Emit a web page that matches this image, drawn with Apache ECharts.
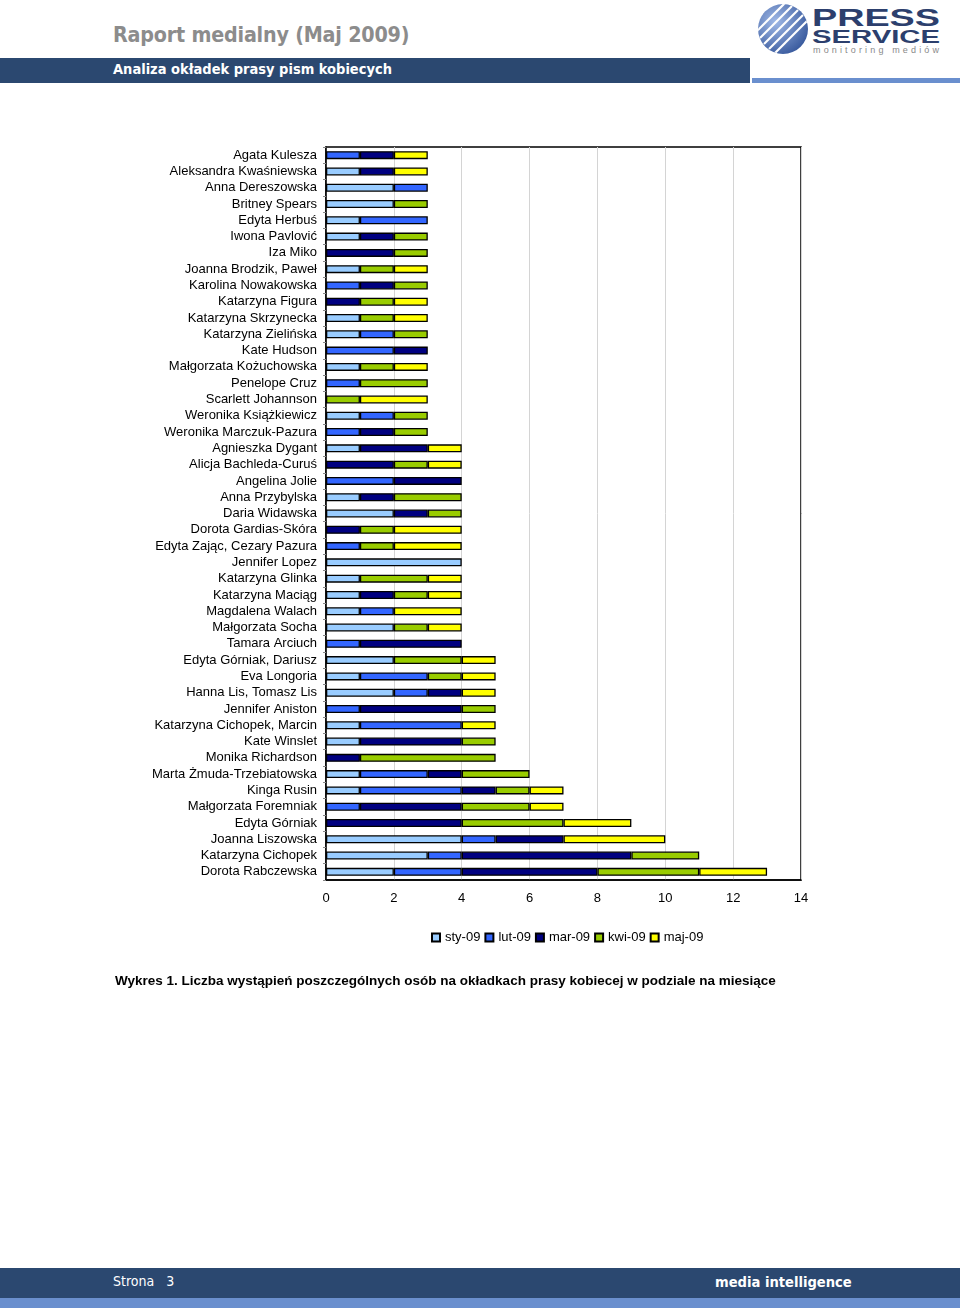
<!DOCTYPE html>
<html>
<head>
<meta charset="utf-8">
<script src="https://cdn.jsdelivr.net/npm/echarts@6/dist/echarts.min.js"></script>
<style>
  html, body { margin: 0; padding: 0; background: #fff; }
  #page { position: relative; width: 960px; height: 1314px; overflow: hidden; font-family: "Liberation Sans", Arial, sans-serif; }
  #chart { position: absolute; left: 0; top: 0; width: 960px; height: 1314px; }
  .title { position: absolute; left: 113px; top: 22px; font-size: 21.3px; font-weight: bold; color: #8c8c8c; font-family: "DejaVu Sans Condensed", "Liberation Sans", sans-serif; letter-spacing: -0.2px; }
  .band { position: absolute; left: 0; top: 58px; width: 750px; height: 25px; background: #2b4870; }
  .bandtext { position: absolute; left: 113px; top: 61px; font-size: 14.5px; font-weight: bold; color: #fff; font-family: "DejaVu Sans Condensed", "Liberation Sans", sans-serif; }
  .bandright { position: absolute; left: 752px; top: 78px; width: 208px; height: 5px; background: #6a8fce; }
  .caption { position: absolute; left: 115px; top: 973px; font-size: 13.5px; font-weight: bold; color: #000; font-family: "Liberation Sans", Arial, sans-serif; }
  .foot1 { position: absolute; left: 0; top: 1268px; width: 960px; height: 30px; background: #2b4870; }
  .foot2 { position: absolute; left: 0; top: 1298px; width: 960px; height: 10px; background: #6a8fce; }
  .strona { position: absolute; left: 113px; top: 1273px; font-size: 14px; color: #fff; font-family: "DejaVu Sans Condensed", sans-serif; }
  .mi { position: absolute; left: 715px; top: 1273px; font-size: 14.6px; font-weight: bold; color: #fff; font-family: "DejaVu Sans Condensed", sans-serif; }
  #logo { position: absolute; left: 756px; top: 2px; }
</style>
</head>
<body>
<div id="page">
  <div class="title">Raport medialny (Maj 2009)</div>
  <div class="band"></div>
  <div class="bandtext">Analiza okładek prasy pism kobiecych</div>
  <div class="bandright"></div>
  <svg id="logo" width="200" height="56" viewBox="0 0 200 56">
    <defs>
      <radialGradient id="g" cx="0.35" cy="0.35" r="0.8">
        <stop offset="0" stop-color="#9fb8e6"/>
        <stop offset="1" stop-color="#2d4f95"/>
      </radialGradient>
      <clipPath id="c"><circle cx="27" cy="27" r="25"/></clipPath>
    </defs>
    <circle cx="27" cy="27" r="25" fill="url(#g)"/>
    <g clip-path="url(#c)" stroke="#fff" stroke-width="2.2" fill="none">
      <line x1="0" y1="30" x2="30" y2="0"/>
      <line x1="4" y1="36" x2="36" y2="4"/>
      <line x1="8" y1="42" x2="42" y2="8"/>
      <line x1="13" y1="47" x2="47" y2="13"/>
      <line x1="18" y1="52" x2="52" y2="18"/>
    </g>
    <text x="56" y="24" font-family="Liberation Sans, Arial" font-weight="bold" font-size="23" fill="#2c3f6d" textLength="128" lengthAdjust="spacingAndGlyphs">PRESS</text>
    <text x="56" y="41" font-family="Liberation Sans, Arial" font-weight="bold" font-size="19" fill="#2c3f6d" textLength="128" lengthAdjust="spacingAndGlyphs">SERVICE</text>
    <text x="57" y="51" font-family="Liberation Sans, Arial" font-size="9" fill="#8a8a8a" textLength="126" lengthAdjust="spacing">monitoring mediów</text>
  </svg>
  <div id="chart"></div>
  <div class="caption">Wykres 1. Liczba wystąpień poszczególnych osób na okładkach prasy kobiecej w podziale na miesiące</div>
  <div class="foot1"></div>
  <div class="foot2"></div>
  <div class="strona">Strona&nbsp;&nbsp;&nbsp;3</div>
  <div class="mi">media intelligence</div>
</div>
<script>
var categories = [
  "Agata Kulesza", "Aleksandra Kwaśniewska", "Anna Dereszowska", "Britney Spears", "Edyta Herbuś",
  "Iwona Pavlović", "Iza Miko", "Joanna Brodzik, Paweł", "Karolina Nowakowska", "Katarzyna Figura",
  "Katarzyna Skrzynecka", "Katarzyna Zielińska", "Kate Hudson", "Małgorzata Kożuchowska", "Penelope Cruz",
  "Scarlett Johannson", "Weronika Książkiewicz", "Weronika Marczuk-Pazura", "Agnieszka Dygant", "Alicja Bachleda-Curuś",
  "Angelina Jolie", "Anna Przybylska", "Daria Widawska", "Dorota Gardias-Skóra", "Edyta Zając, Cezary Pazura",
  "Jennifer Lopez", "Katarzyna Glinka", "Katarzyna Maciąg", "Magdalena Walach", "Małgorzata Socha",
  "Tamara Arciuch", "Edyta Górniak, Dariusz", "Eva Longoria", "Hanna Lis, Tomasz Lis", "Jennifer Aniston",
  "Katarzyna Cichopek, Marcin", "Kate Winslet", "Monika Richardson", "Marta Żmuda-Trzebiatowska", "Kinga Rusin",
  "Małgorzata Foremniak", "Edyta Górniak", "Joanna Liszowska", "Katarzyna Cichopek", "Dorota Rabczewska"
];
var seriesNames = ["sty-09", "lut-09", "mar-09", "kwi-09", "maj-09"];
var sty09 = [0,1,2,2,1, 1,0,1,0,0, 1,1,0,1,0, 0,1,0,1,0, 0,1,2,0,0, 4,1,1,1,2, 0,2,1,2,0, 1,1,0,1,1, 0,0,4,3,2];
var lut09 = [1,0,1,0,2, 0,0,0,1,0, 0,1,2,0,1, 0,1,1,0,0, 2,0,0,0,1, 0,0,0,1,0, 1,0,2,1,1, 3,0,0,2,3, 1,0,1,1,2];
var mar09 = [1,1,0,0,0, 1,2,0,1,1, 0,0,1,0,0, 0,0,1,2,2, 2,1,1,1,0, 0,0,1,0,0, 3,0,0,1,3, 0,3,1,1,1, 3,4,2,5,4];
var kwi09 = [0,0,0,1,0, 1,1,1,1,1, 1,1,0,1,2, 1,1,1,0,1, 0,2,1,1,1, 0,2,1,0,1, 0,2,1,0,1, 0,1,4,2,1, 2,3,0,2,3];
var maj09 = [1,1,0,0,0, 0,0,1,0,1, 1,0,0,1,0, 2,0,0,1,1, 0,0,0,2,2, 0,1,1,2,1, 0,1,1,1,0, 1,0,0,0,1, 1,2,3,0,2];
var xTicks = [0, 2, 4, 6, 8, 10, 12, 14];
var colors = ["#99ccff", "#3366ff", "#000080", "#99cc00", "#ffff00"];

var values = [sty09, lut09, mar09, kwi09, maj09];
var series = seriesNames.map(function (name, i) {
  return {
    name: name,
    type: 'bar',
    stack: 'total',
    barWidth: 8,
    itemStyle: { color: colors[i], borderColor: '#000', borderWidth: 1.3 },
    data: values[i].map(function (v) { return v === 0 ? '-' : v; })
  };
});

var chart = echarts.init(document.getElementById('chart'), null, { renderer: 'canvas' });
chart.setOption({
  animation: false,
  backgroundColor: 'transparent',
  textStyle: { fontFamily: 'Liberation Sans, Arial, sans-serif' },
  grid: { left: 326, top: 147, width: 475, height: 733, containLabel: false, show: true, borderColor: '#000', borderWidth: 1.5, backgroundColor: 'transparent' },
  legend: {
    data: seriesNames,
    left: 426, top: 926,
    itemWidth: 8, itemHeight: 8, itemGap: 4,
    icon: 'rect',
    textStyle: { fontSize: 13, color: '#000' }
  },
  xAxis: {
    type: 'value',
    min: xTicks[0], max: xTicks[xTicks.length - 1], interval: 2,
    axisLine: { show: true, lineStyle: { color: '#000', width: 1.5 } },
    axisTick: { show: false },
    axisLabel: { fontSize: 13, color: '#000', margin: 12 },
    splitLine: { show: true, lineStyle: { color: '#d4d4d4', width: 1 } }
  },
  yAxis: {
    type: 'category',
    inverse: true,
    data: categories,
    axisLine: { show: true, lineStyle: { color: '#000', width: 1.5 } },
    axisTick: { show: true, length: 3, lineStyle: { color: '#888' } },
    axisLabel: { fontSize: 13, color: '#000', margin: 9, interval: 0 }
  },
  series: series
});
</script>
</body>
</html>
